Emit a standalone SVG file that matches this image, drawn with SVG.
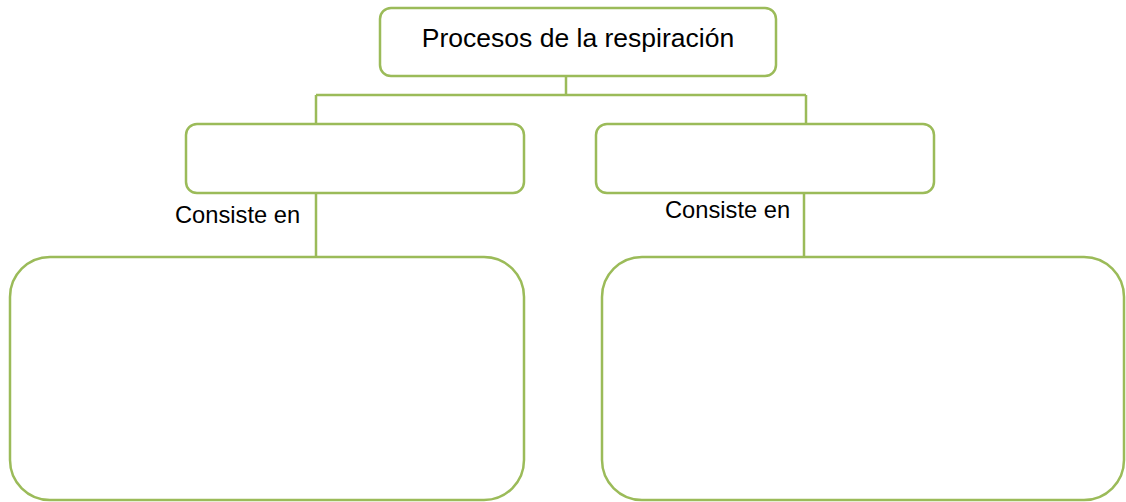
<svg xmlns="http://www.w3.org/2000/svg" width="1126" height="502" viewBox="0 0 1126 502">
<style>
.box{fill:#ffffff;stroke:#9BBB59;stroke-width:2.5}
.ln{fill:none;stroke:#9BBB59;stroke-width:2.5}
.t{font-family:"Liberation Sans",Arial,sans-serif;fill:#000000}
</style>
<rect width="1126" height="502" fill="#ffffff"/>
<g id="connectors">
<line class="ln" x1="566" y1="76" x2="566" y2="95"/>
<line class="ln" x1="316" y1="95" x2="806" y2="95"/>
<line class="ln" x1="316" y1="95" x2="316" y2="124"/>
<line class="ln" x1="806" y1="95" x2="806" y2="124"/>
<line class="ln" x1="316" y1="193" x2="316" y2="257"/>
<line class="ln" x1="804" y1="193" x2="804" y2="257"/>
</g>
<g id="node-top">
<rect class="box" x="380" y="8" width="396" height="68" rx="11"/>
<text class="t" x="578" y="47" font-size="26.5" text-anchor="middle">Procesos de la respiración</text>
</g>
<g id="node-left">
<rect class="box" x="186" y="124" width="338" height="69" rx="11"/>
</g>
<g id="node-right">
<rect class="box" x="596" y="124" width="338" height="69" rx="11"/>
</g>
<g id="label-left">
<text class="t" x="175" y="223" font-size="23.7">Consiste en</text>
</g>
<g id="label-right">
<text class="t" x="665" y="218" font-size="23.7">Consiste en</text>
</g>
<g id="node-left-big">
<rect class="box" x="10" y="257" width="514" height="243" rx="40"/>
</g>
<g id="node-right-big">
<rect class="box" x="602" y="257" width="522" height="243" rx="40"/>
</g>
</svg>
